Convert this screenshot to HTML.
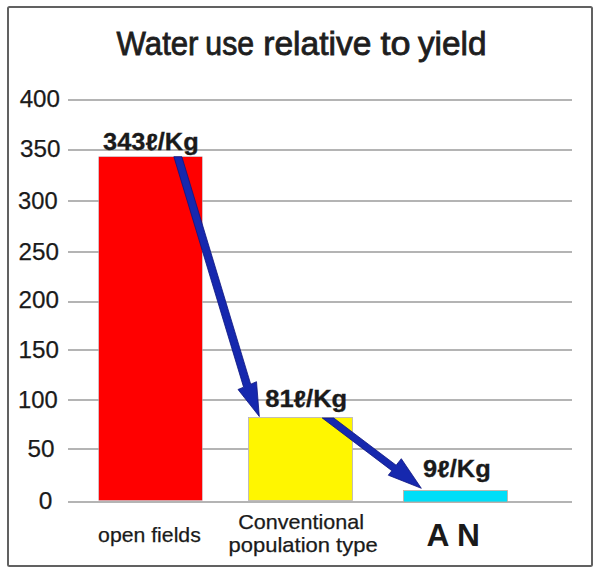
<!DOCTYPE html>
<html>
<head>
<meta charset="utf-8">
<style>
html,body{margin:0;padding:0;background:#fff;width:600px;height:575px;overflow:hidden;}
svg{display:block;}
text{font-family:"Liberation Sans", sans-serif;}
</style>
</head>
<body>
<svg width="600" height="575" viewBox="0 0 600 575">
  <rect x="0" y="0" width="600" height="575" fill="#fff"/>
  <!-- frame -->
  <rect x="8" y="7" width="584" height="559" rx="1.5" fill="none" stroke="#616161" stroke-width="2"/>
  <!-- title -->
  <g font-size="32.3" fill="#1e1e1e" stroke="#1e1e1e" stroke-width="0.8">
    <text x="116.56" y="54.8" textLength="81.95" lengthAdjust="spacingAndGlyphs">Water</text>
    <text x="205.34" y="54.8" textLength="48.7" lengthAdjust="spacingAndGlyphs">use</text>
    <text x="263.27" y="54.8" textLength="108.22" lengthAdjust="spacingAndGlyphs">relative</text>
    <text x="380.45" y="54.8" textLength="30.06" lengthAdjust="spacingAndGlyphs">to</text>
    <text x="417.92" y="54.8" textLength="68.63" lengthAdjust="spacingAndGlyphs">yield</text>
  </g>
  <!-- gridlines -->
  <g fill="#b4b4b4">
    <rect x="68" y="99" width="504" height="2"/>
    <rect x="68" y="149" width="504" height="2"/>
    <rect x="68" y="200" width="504" height="2"/>
    <rect x="68" y="251" width="504" height="2"/>
    <rect x="68" y="301" width="504" height="2"/>
    <rect x="68" y="349" width="504" height="2"/>
    <rect x="68" y="399" width="504" height="2"/>
    <rect x="68" y="448" width="504" height="2"/>
    <rect x="68" y="501" width="504" height="2"/>
  </g>
  <!-- y labels -->
  <g font-size="24.4" fill="#1a1a1a" stroke="#1a1a1a" stroke-width="0.25">
    <text x="19.65" y="106.56" textLength="40.3" lengthAdjust="spacingAndGlyphs">400</text>
    <text x="19.98" y="157.06" textLength="40.37" lengthAdjust="spacingAndGlyphs">350</text>
    <text x="18.1" y="208.56" textLength="39.53" lengthAdjust="spacingAndGlyphs">300</text>
    <text x="18.53" y="259.76" textLength="40.41" lengthAdjust="spacingAndGlyphs">250</text>
    <text x="18.53" y="308.26" textLength="40.41" lengthAdjust="spacingAndGlyphs">200</text>
    <text x="18.56" y="357.76" textLength="40.39" lengthAdjust="spacingAndGlyphs">150</text>
    <text x="17.94" y="408.26" textLength="39.69" lengthAdjust="spacingAndGlyphs">100</text>
    <text x="27.53" y="457.16" textLength="27.02" lengthAdjust="spacingAndGlyphs">50</text>
    <text x="38.84" y="508.96" textLength="13.61" lengthAdjust="spacingAndGlyphs">0</text>
  </g>
  <!-- bars -->
  <rect x="98.75" y="156.75" width="103.5" height="343.75" fill="#ff0000" stroke="#b8bcc8" stroke-width="0.5"/>
  <rect x="248.5" y="417.5" width="104" height="83" fill="#fff600" stroke="#b4aec4" stroke-width="0.8"/>
  <rect x="403.5" y="490.5" width="104" height="11.5" fill="#00def8" stroke="#d4a494" stroke-width="0.7"/>
  <!-- arrows -->
  <g fill="#1628ae" stroke="#0c1480" stroke-width="0.8" stroke-linejoin="miter">
    <polygon points="173.85,156.7 181.85,156.7 250.7,384.15 256.5,381.7 259.3,416.5 238,389.5 243.6,387.14"/>
    <polygon points="322.25,418 333.75,418 396.15,465.24 401.3,458.7 421.3,488.3 388.3,475.2 391.85,470.7"/>
  </g>
  <!-- data labels -->
  <g font-weight="bold" fill="#1a1a1a" font-size="23.3" stroke="#1a1a1a" stroke-width="0.3">
    <text x="103.12" y="149.5" textLength="95.58" lengthAdjust="spacingAndGlyphs">343ℓ/Kg</text>
    <text x="265.19" y="406.6" textLength="82.02" lengthAdjust="spacingAndGlyphs">81ℓ/Kg</text>
    <text x="423.12" y="477" textLength="67.58" lengthAdjust="spacingAndGlyphs">9ℓ/Kg</text>
  </g>
  <!-- category labels -->
  <g font-size="20.4" fill="#1a1a1a" stroke="#1a1a1a" stroke-width="0.25">
    <text x="98.11" y="541.5" textLength="102.66" lengthAdjust="spacingAndGlyphs">open fields</text>
    <text x="238.21" y="529" textLength="125.73" lengthAdjust="spacingAndGlyphs">Conventional</text>
    <text x="228.58" y="552" textLength="149.09" lengthAdjust="spacingAndGlyphs">population type</text>
  </g>
  <text x="426.43" y="545.8" font-size="31.8" font-weight="bold" fill="#1a1a1a" textLength="53.47" lengthAdjust="spacingAndGlyphs">A N</text>
</svg>
</body>
</html>
